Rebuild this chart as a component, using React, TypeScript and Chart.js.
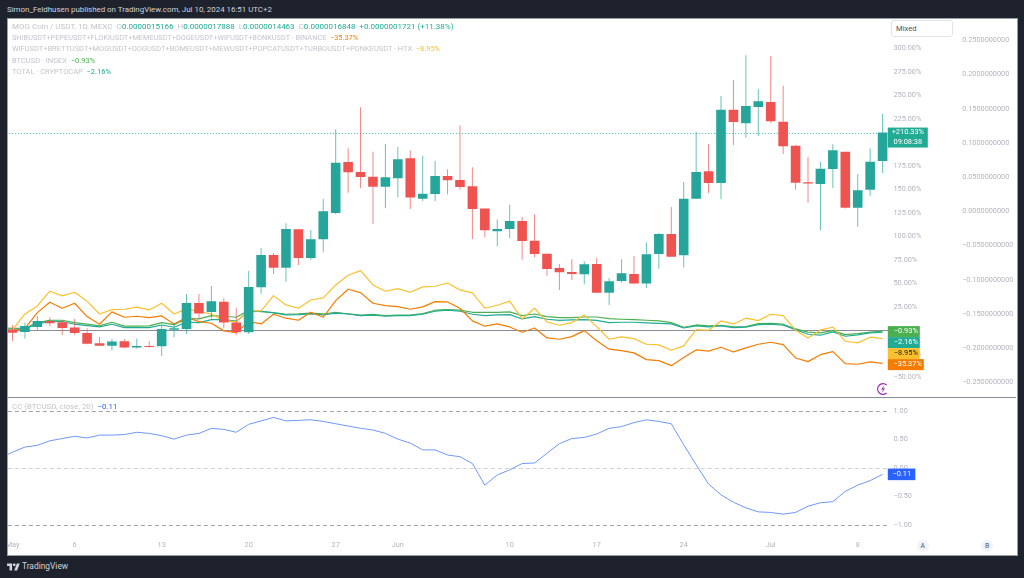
import React, { useEffect, useRef } from "react";
import { Chart, registerables } from "chart.js";

Chart.register(...registerables);

const categories = [
  "Apr 30",
  "May 1","May 2","May 3","May 4","May 5","May 6","May 7","May 8","May 9","May 10","May 11","May 12","May 13","May 14","May 15","May 16","May 17","May 18","May 19","May 20","May 21","May 22","May 23","May 24","May 25","May 26","May 27","May 28","May 29","May 30","May 31",
  "Jun 1","Jun 2","Jun 3","Jun 4","Jun 5","Jun 6","Jun 7","Jun 8","Jun 9","Jun 10","Jun 11","Jun 12","Jun 13","Jun 14","Jun 15","Jun 16","Jun 17","Jun 18","Jun 19","Jun 20","Jun 21","Jun 22","Jun 23","Jun 24","Jun 25","Jun 26","Jun 27","Jun 28","Jun 29","Jun 30",
  "Jul 1","Jul 2","Jul 3","Jul 4","Jul 5","Jul 6","Jul 7","Jul 8","Jul 9","Jul 10",
];
const axisLabels: Record<string, string> = {
  "May 1": "May", "May 6": "6", "May 13": "13", "May 20": "20", "May 27": "27", "Jun 1": "Jun",
  "Jun 10": "10", "Jun 17": "17", "Jun 24": "24", "Jul 1": "Jul", "Jul 8": "8",
};

const opens = [null,0.5,-1.8,3.5,9.9,8.5,2.8,-2.9,-13.8,-16.4,-11.7,-18.5,-16.7,-17,0.6,1.4,29,19.5,30.4,8.1,-2.1,45.7,80.1,66.6,107.4,76.9,96.8,124.8,179,168.4,163.4,152.8,161.7,183,140,145,164.1,159.9,153.2,129.4,105.3,107.8,116.3,95.3,81.5,66.3,62,59.6,70.5,40,52.4,59.9,49.6,81.2,102.4,79.8,140,169.1,156.7,234.7,220.2,237.6,242.9,221.9,196.4,157.4,155.6,171.6,190,130.4,149.6,180.1];
const closes = [null,-2.6,4.6,9.9,7.4,2.4,-2.9,-14.3,-16.4,-12.1,-18.5,-16.7,-17.8,1.4,2.1,29,17.7,30.9,8.1,-2.1,46.1,80.1,66.6,107.8,76.9,96.8,126.6,178.3,168.1,163.1,152.8,162.8,181.9,141.1,145.3,164.1,159.6,152.4,129,106.4,107.8,116.3,95,81.2,65.2,61.7,59.9,70.2,40,52.1,60.6,49.6,80.9,102.4,78.3,140,168.4,156.7,234.7,221.6,238.6,243.6,222.3,195.7,157,156,171.9,191.5,130.4,148.9,179.4,210.33];
const highs = [null,5.6,8.1,15.2,13.8,11,12,2.1,-7.1,-9.3,-9.6,-8.9,-11.7,5.6,8.1,38.6,38.6,47.1,34,23.4,63.1,87.6,82.2,113.8,107.8,106.7,139.7,213.8,193.6,237.2,190,198.2,195,191.5,185.7,180.4,171.3,218.1,173.4,129.4,117.7,133.6,120.5,123.4,81.5,70.5,75.5,73.4,77.2,55.6,75.5,79,93.6,103.5,131.2,157.8,211,198.2,249.3,266.3,292.6,256.4,291.8,260.2,197.1,184.4,179,197.9,190,166.3,193.6,230.1];
const lows = [null,-11.4,-8.9,0.3,4.6,-5,-4.7,-14.9,-16.7,-21.7,-19.1,-19.6,-18.5,-27.3,-7.4,-3.9,12.3,12.3,2.4,-5,-3.9,38.9,59.6,51.7,69.5,74.8,83,123.7,146.4,151.4,113.1,129.8,141.5,129,137.6,137.6,144.3,149.3,97.1,99.3,89.4,97.9,75.1,77.7,58.1,42.9,53.5,48.9,40,26.9,50.6,48.9,45,65.5,78.3,67,140,146.1,139.4,197.1,204.9,206.7,220.9,187.6,149.6,135.7,106,151.4,129.4,110.2,143.2,167.3];

const shibBasket = [-1,-0.4,2.1,18.7,29.8,23.4,28.7,14.5,6.4,19.5,13.8,14.9,13.4,15.2,6.7,13.8,9.1,7.4,-0.7,-2.6,9.1,6.7,17,12.8,10.6,19.1,13.8,31.5,43.6,40,28.7,26.2,25.1,22.3,24.8,30.4,30.1,23.4,9.9,4.3,6.7,3.5,-2.1,2.4,-8.2,-9.6,-6.8,-0.4,-11.1,-20.2,-21.7,-24.1,-31.3,-32.3,-37.7,-29.1,-21,-22.3,-18.1,-23.1,-18.8,-14.9,-12.8,-15.3,-29.5,-33.4,-26,-22.8,-35.5,-36.2,-33.7,-35.37];
const wifBasket = [-0.3,0.3,17.3,25.9,41.5,36.5,40.4,30.9,17.3,21.9,22.3,24.5,21.6,28.7,17.3,22.7,19.8,17.3,10.2,8.8,20.9,20.5,36.8,26.9,23.4,32.2,34.4,48.2,58.5,63.4,48.2,41.5,44.3,40.4,46.1,46.8,50.3,42.9,39.7,23.4,26.6,30.9,12,23.4,8.8,5.3,8.1,16.3,3.8,-9.6,-7.1,-8.9,-14.9,-15.6,-21.3,-16.7,0.6,0,9.9,6.7,12.8,10.2,17,15.5,0,-8.2,0.3,3.2,-11.7,-13.5,-7.4,-8.95];
const btcIndex = [2.6,2.1,2.1,8.1,10.6,10.6,8.1,6.4,4.6,8.5,4.3,4.3,4.6,8.1,6,12.3,12,15.5,14.9,13.8,20.9,19.8,18.7,17,17.3,18.1,17.3,19.1,17.3,16,17,15.5,16,16,17.7,21.3,21.9,21.3,19.1,19.1,19.1,19.5,15.5,17.3,14.5,13.4,13.4,14.1,14.1,12.3,11.7,11.3,10.6,9.9,8.1,3.2,5.6,4.6,5.3,3.5,3.8,7,7.4,6.4,1.4,-2.1,-2.9,-0.4,-4.7,-3.6,-2.1,-0.93];
const totalCap = [1.4,1.1,1.7,6.7,9.6,9.1,6.4,4.9,3.5,6.4,2.8,2.8,2.8,5.6,3.2,8.5,8.1,11.3,11.3,9.6,19.8,20.2,18.4,16.3,16.6,17.3,16.3,18.1,17.3,15.5,16,14.9,15.5,15.5,17,20.2,21.3,20.2,17,15.5,16.3,16.6,12,14.5,11.7,10.4,11,11.3,10.4,8.1,8.5,8.5,7.8,7.2,6.7,2.4,4.6,3.5,4.6,2.8,3.2,6,6.4,5.3,0.6,-4.3,-5.3,-1.8,-6.4,-5,-2.9,-2.16];
const ccValues = [0.18,0.28,0.37,0.4,0.48,0.52,0.56,0.53,0.58,0.58,0.59,0.63,0.61,0.57,0.51,0.58,0.61,0.7,0.68,0.63,0.77,0.83,0.89,0.83,0.84,0.85,0.82,0.78,0.74,0.7,0.67,0.61,0.51,0.44,0.32,0.32,0.23,0.2,0.08,-0.3,-0.12,-0.03,0.08,0.09,0.26,0.43,0.52,0.54,0.6,0.7,0.73,0.8,0.85,0.82,0.78,0.41,0.06,-0.28,-0.47,-0.6,-0.7,-0.77,-0.78,-0.81,-0.78,-0.67,-0.61,-0.59,-0.41,-0.3,-0.22,-0.11];

const percentTicks = [300,275,250,225,200,175,150,125,100,75,50,25,0,-25,-50];
const secondTicks = [0.25,0.2,0.15,0.1,0.05,0,-0.05,-0.1,-0.15,-0.2,-0.25];
const ccTicks = [1,0.5,0,-0.5,-1];
const ccGuides = [1,0,-1];
const lastPriceLabel = "09:08:38";

const UP = "#26a69a";
const DOWN = "#ef5350";
const ORANGE = "#f57c00";
const YELLOW = "#fbc02d";
const GREEN = "#4caf50";
const TEAL = "#22ab94";
const GREY = "#b2b5be";
const FONT = "Roboto, sans-serif";
const minus = (s: string) => s.replace("-", "\u2212");

const candleColors = opens.map((o, i) => (o === null || (closes[i] as number) >= o ? UP : DOWN));
const seriesTags = [
  { v: -0.93, c: GREEN, t: "#fff" },
  { v: -2.16, c: TEAL, t: "#fff" },
  { v: -8.95, c: YELLOW, t: "#131722" },
  { v: -35.37, c: ORANGE, t: "#fff" },
];

const tagFont = `7.4px ${FONT}`;

const mainPlugin = {
  id: "mainMarks",
  beforeDatasetsDraw(chart: any) {
    const { ctx, chartArea: a, scales } = chart;
    ctx.save();
    ctx.lineWidth = 1;
    ctx.strokeStyle = "#8a8d96";
    const z = Math.round(scales.y.getPixelForValue(0)) + 0.5;
    ctx.beginPath();
    ctx.moveTo(a.left, z);
    ctx.lineTo(a.right, z);
    ctx.stroke();
    ctx.setLineDash([1, 2]);
    ctx.strokeStyle = "#3fbfb0";
    const p = Math.round(scales.y.getPixelForValue(closes[closes.length - 1])) + 0.5;
    ctx.beginPath();
    ctx.moveTo(a.left, p);
    ctx.lineTo(a.right, p);
    ctx.stroke();
    ctx.restore();
  },
  afterDraw(chart: any) {
    const { ctx, chartArea: a, scales } = chart;
    ctx.save();
    ctx.font = tagFont;
    ctx.textBaseline = "middle";
    const pct = closes[closes.length - 1] as number;
    const py = scales.y.getPixelForValue(pct);
    ctx.fillStyle = TEAL;
    ctx.fillRect(a.right - 1, py - 5, 40, 20);
    ctx.fillStyle = "#fff";
    ctx.textAlign = "center";
    ctx.fillText("+" + pct.toFixed(2) + "%", a.right + 19, py);
    ctx.fillText(lastPriceLabel, a.right + 19, py + 10);
    let prev = -Infinity;
    seriesTags.forEach((tag) => {
      const y = Math.max(scales.y.getPixelForValue(tag.v) + 0.5, prev + 11);
      prev = y;
      const text = minus(tag.v.toFixed(2)) + "%";
      const w = tag.v <= -10 ? 36 : 32;
      ctx.fillStyle = tag.c;
      ctx.fillRect(a.right - 1, y - 5.5, w, 11);
      ctx.fillStyle = tag.t;
      ctx.textAlign = "right";
      ctx.fillText(text, a.right - 1 + w - 2, y);
    });
    ctx.restore();
  },
};

const ccPlugin = {
  id: "ccMarks",
  beforeDatasetsDraw(chart: any) {
    const { ctx, chartArea: a, scales } = chart;
    ctx.save();
    ctx.lineWidth = 1;
    ctx.setLineDash([4, 3]);
    ccGuides.forEach((v) => {
      ctx.strokeStyle = v === 0 ? "#d0d2d6" : "#a0a3ab";
      const y = Math.round(scales.y.getPixelForValue(v)) + 0.5;
      ctx.beginPath();
      ctx.moveTo(a.left, y);
      ctx.lineTo(a.right, y);
      ctx.stroke();
    });
    ctx.restore();
  },
  afterDraw(chart: any) {
    const { ctx, chartArea: a, scales } = chart;
    const last = ccValues[ccValues.length - 1];
    const y = scales.y.getPixelForValue(last);
    ctx.save();
    ctx.fillStyle = "#2962ff";
    ctx.fillRect(a.right - 1, y - 5.8, 27.5, 11.6);
    ctx.fillStyle = "#fff";
    ctx.font = tagFont;
    ctx.textAlign = "center";
    ctx.textBaseline = "middle";
    ctx.fillText(minus(last.toFixed(2)), a.right + 13, y);
    ctx.restore();
  },
};

const hiddenX = { display: false, offset: true, grid: { display: false } };
const tickFont = { family: FONT, size: 7.3 };
const rightAxis = (width: number, weight: number, pad: number, min: number, max: number, vals: number[], fmt: (v: number) => string, position = "right") => ({
  position,
  weight,
  min,
  max,
  afterFit: (s: any) => { s.width = width; },
  afterBuildTicks: (s: any) => { s.ticks = vals.map((value) => ({ value })); },
  grid: { display: false, drawTicks: false },
  border: { display: false },
  ticks: { color: GREY, font: tickFont, padding: pad, autoSkip: false, callback: (v: any) => fmt(Number(v)) },
});

const txt = (left: number, cy: number, size = 7.4, color = "#c3c5cc"): React.CSSProperties => ({
  position: "absolute",
  left,
  top: cy - 6,
  height: 12,
  lineHeight: "12px",
  fontSize: size,
  fontFamily: FONT,
  color,
  whiteSpace: "pre",
});

export default function App() {
  const topRef = useRef<HTMLCanvasElement>(null);
  const botRef = useRef<HTMLCanvasElement>(null);

  useEffect(() => {
    document.body.style.margin = "0";
    document.body.style.overflow = "hidden";
    const line = (label: string, data: number[], color: string, width = 1.2) => ({
      type: "line" as const,
      label,
      data,
      borderColor: color,
      borderWidth: width,
      pointRadius: 0,
      tension: 0,
      order: 3,
      borderJoinStyle: "round" as const,
    });
    const top = new Chart(topRef.current!, {
      data: {
        labels: categories,
        datasets: [
          line("SHIB basket", shibBasket, ORANGE),
          line("WIF basket", wifBasket, YELLOW),
          line("TOTAL", totalCap, TEAL),
          line("BTCUSD", btcIndex, GREEN),
          {
            type: "bar" as const, label: "wick", data: lows.map((l, i) => (l === null ? null : [l, highs[i]])),
            backgroundColor: candleColors.map((c) => c + "b0"), barThickness: 1, inflateAmount: 0, grouped: false, order: 2,
          },
          {
            type: "bar" as const, label: "body", data: opens.map((o, i) => (o === null ? null : [o, closes[i]])),
            backgroundColor: candleColors, barThickness: 9.6, inflateAmount: 0, grouped: false, order: 1,
          },
        ] as any,
      },
      options: {
        responsive: false,
        animation: false,
        layout: { padding: { left: 0.86, top: 18.5, right: 0, bottom: 9 } },
        plugins: { legend: { display: false }, tooltip: { enabled: false } },
        scales: {
          x: hiddenX as any,
          y: rightAxis(71, 1, 4.7, -69.9, 331.7, percentTicks, (v) => minus(v.toFixed(2)) + "%") as any,
          y2: rightAxis(58.2, 2, 2.4, -0.2699, 0.282, secondTicks, (v) => minus(v.toFixed(10))) as any,
        },
      },
      plugins: [mainPlugin],
    } as any);
    const bot = new Chart(botRef.current!, {
      data: {
        labels: categories,
        datasets: [{ ...line("CC", ccValues, "#6f97ff", 1) }] as any,
      },
      options: {
        responsive: false,
        animation: false,
        layout: { padding: { left: 0.86, top: 11, right: 0, bottom: 0 } },
        plugins: { legend: { display: false }, tooltip: { enabled: false } },
        scales: {
          x: {
            offset: true,
            afterFit: (s: any) => { s.height = 18; },
            grid: { display: false, drawTicks: false },
            border: { display: false },
            ticks: {
              color: GREY, font: tickFont, padding: 4, autoSkip: false, maxRotation: 0, minRotation: 0,
              callback: (_v: any, i: number) => axisLabels[categories[i]] ?? "",
            },
          },
          y: rightAxis(129.2, 1, 4.7, -1.212, 1.233, ccTicks, (v) => minus(v.toFixed(2))) as any,
        },
      },
      plugins: [ccPlugin],
    } as any);
    return () => { top.destroy(); bot.destroy(); };
  }, []);

  return (
    <div style={{ position: "fixed", left: 0, top: 0, width: 1024, height: 578, background: "#1e222d", overflow: "hidden" }}>
      <div style={txt(7, 9.5, 7.9, "#d1d4dc")}>Simon_Feldhusen published on TradingView.com, Jul 10, 2024 16:51 UTC+2</div>
      <div style={{ position: "absolute", left: 6.5, top: 17.5, width: 1009, height: 536, background: "#fff", border: "1px solid #9a9da6", boxSizing: "content-box" }} />
      <div style={{ position: "absolute", left: 7, top: 397, width: 1009, height: 1, background: "#8a8d96" }} />

      <canvas ref={topRef} width={1025} height={405} style={{ position: "absolute", left: -7, top: 0 }} />
      <canvas ref={botRef} width={1025} height={168} style={{ position: "absolute", left: -7, top: 387 }} />
      <div style={{ position: "absolute", left: 0, top: 18, width: 6.5, height: 540, background: "#1e222d" }} />
      <div style={{ position: "absolute", left: 6.5, top: 18, width: 1, height: 536, background: "#9a9da6" }} />

      <div style={txt(12, 27.3, 8)}>
        {"MOG Coin / USDT, 1D, MEXC  O"}<span style={{ color: TEAL }}>0.0000015166</span>{"  H"}<span style={{ color: TEAL }}>0.0000017888</span>{"  L"}<span style={{ color: TEAL }}>0.0000014463</span>{"  C"}<span style={{ color: TEAL }}>0.0000016848  +0.0000001721 (+11.38%)</span>
      </div>
      <div style={txt(12, 38, 7.35)}>
        {"SHIBUSDT+PEPEUSDT+FLOKIUSDT+MEMEUSDT+DOGEUSDT+WIFUSDT+BONKUSDT \u00b7 BINANCE  "}<span style={{ color: ORANGE }}>{"\u221235.37%"}</span>
      </div>
      <div style={txt(12, 49.3, 7.45)}>
        {"WIFUSDT+BRETTUSDT+MOGUSDT+DOGUSDT+BOMEUSDT+MEWUSDT+POPCATUSDT+TURBOUSDT+PONKEUSDT \u00b7 HTX  "}<span style={{ color: YELLOW }}>{"\u22128.95%"}</span>
      </div>
      <div style={txt(12, 60.7, 7.5)}>
        {"BTCUSD \u00b7 INDEX  "}<span style={{ color: GREEN }}>{"\u22120.93%"}</span>
      </div>
      <div style={txt(12, 71.7, 7.5)}>
        {"TOTAL \u00b7 CRYPTOCAP  "}<span style={{ color: TEAL }}>{"\u22122.16%"}</span>
      </div>
      <div style={txt(12, 407, 7.9)}>
        {"CC (BTCUSD, close, 20)  "}<span style={{ color: "#2962ff" }}>{"\u22120.11"}</span>
      </div>

      <div style={{ position: "absolute", left: 890.7, top: 20, width: 62, height: 17, boxSizing: "border-box", border: "1px solid #e0e3eb", borderRadius: 3, background: "#fff" }} />
      <div style={txt(896, 28.5, 7.6, "#50535e")}>Mixed</div>

      <svg style={{ position: "absolute", left: 875.5, top: 381.5 }} width="14" height="14" viewBox="0 0 14 14">
        <path d="M10.6 3 A5.4 5.4 0 1 0 10.6 11" fill="none" stroke="#9c27b0" strokeWidth="1.1" />
        <path d="M8.2 3.6 L5 7.6 L7 7.6 L5.9 10.4 L9.1 6.4 L7.1 6.4 Z" fill="#9c27b0" />
      </svg>

      {[["A", 922.7], ["B", 987]].map(([label, x]) => (
        <div key={label as string} style={{ position: "absolute", left: (x as number) - 6, top: 540, width: 12, height: 12, borderRadius: 6, background: "#f0f3fa", color: "#50535e", fontSize: 6.8, fontFamily: FONT, lineHeight: "12px", textAlign: "center" }}>{label}</div>
      ))}

      <svg style={{ position: "absolute", left: 7, top: 561.5 }} width="13" height="10" viewBox="0 0 36 28">
        <path d="M14 24H7V11H0V4h14v20zM28 24h-8l7.5-20h8L28 24z" fill="#d1d4dc" />
        <circle cx="20" cy="8" r="4" fill="#d1d4dc" />
      </svg>
      <div style={txt(22, 566, 8.4, "#d1d4dc")}>TradingView</div>
    </div>
  );
}
